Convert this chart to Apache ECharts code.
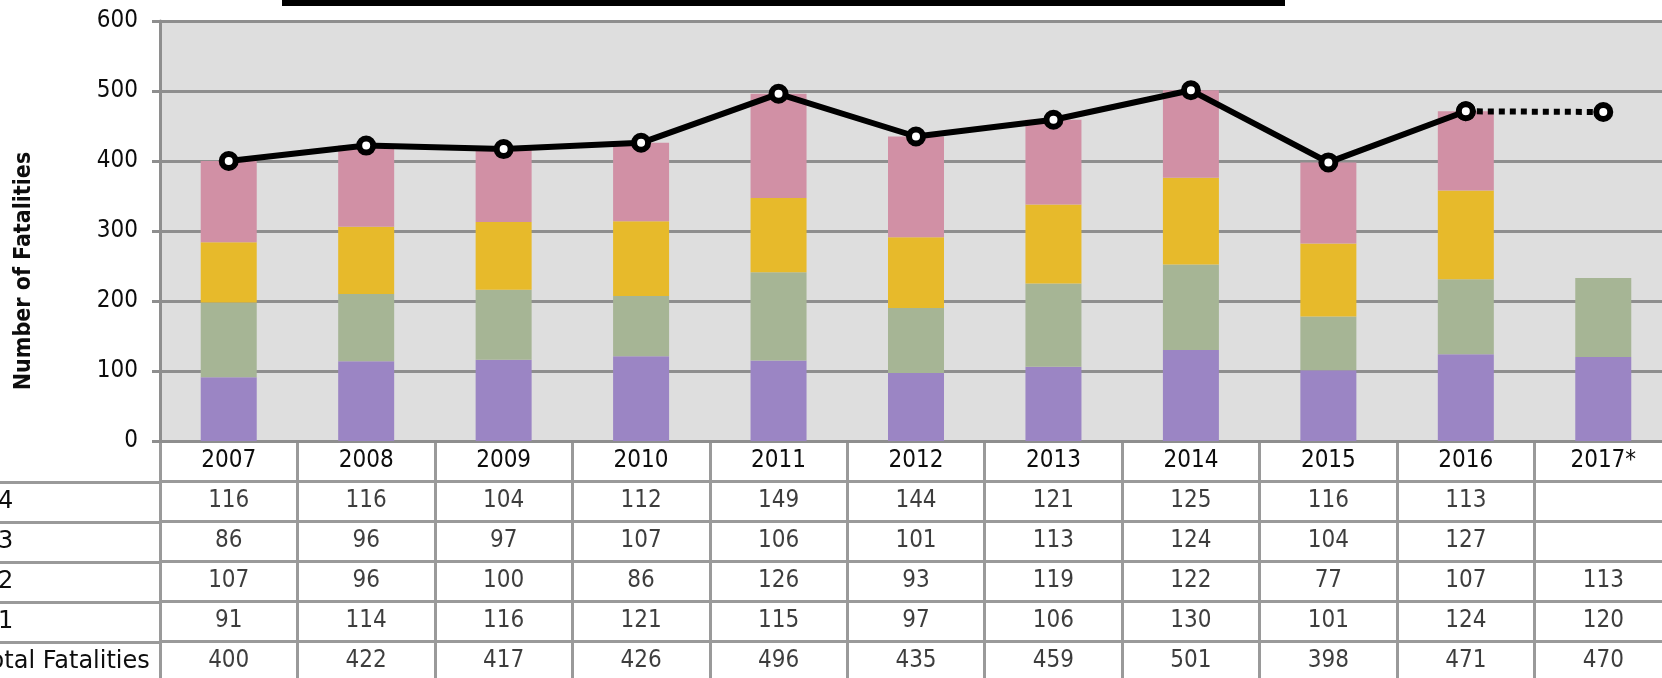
<!DOCTYPE html>
<html>
<head>
<meta charset="utf-8">
<style>
  html, body { margin: 0; padding: 0; background: #ffffff; }
  #chart { width: 1662px; height: 678px; }
</style>
<script src="https://cdn.jsdelivr.net/npm/echarts@6/dist/echarts.min.js"></script>
</head>
<body>
<div id="chart"></div>
<script>
// ---- Data ----
const years = ['2007', '2008', '2009', '2010', '2011', '2012', '2013', '2014', '2015', '2016', '2017*'];
const q4 = [116, 116, 104, 112, 149, 144, 121, 125, 116, 113, null];
const q3 = [86, 96, 97, 107, 106, 101, 113, 124, 104, 127, null];
const q2 = [107, 96, 100, 86, 126, 93, 119, 122, 77, 107, 113];
const q1 = [91, 114, 116, 121, 115, 97, 106, 130, 101, 124, 120];
const totals = [400, 422, 417, 426, 496, 435, 459, 501, 398, 471, 470];
const rowLabels = ['Q4', 'Q3', 'Q2', 'Q1', 'Total Fatalities'];
const yTicks = [0, 100, 200, 300, 400, 500, 600];
const yAxisTitle = 'Number of Fatalities';
const lastActual = 9; // index of 2016, last complete year

// ---- Build ----
const FONT = '"DejaVu Sans Condensed", "DejaVu Sans", sans-serif';
const FONT_WIDE = '"DejaVu Sans", sans-serif';
const GRIDLINE = '#8e8e8e';
const TABLELINE = '#9a9a9a';
const TXT = '#0d0d0d';
const FS = 24;

const tableRows = [null, q4, q3, q2, q1, totals]; // row 0 is header (years, drawn by axis)
const tableCats = [''].concat(rowLabels);
const cellData = [];
tableRows.forEach((row, r) => {
  if (!row) return;
  row.forEach((v, c) => {
    if (v !== null && v !== undefined) cellData.push([years[c], tableCats[r], String(v)]);
  });
});

const solidTotals = totals.map((v, i) => (i <= lastActual ? v : null));
const dottedTotals = totals.map((v, i) => (i >= lastActual ? v : null));

const chart = echarts.init(document.getElementById('chart'), null, { renderer: 'canvas' });

const markerStyle = { color: '#ffffff', borderColor: '#000', borderWidth: 6 };

const option = {
  backgroundColor: '#ffffff',
  animation: false,
  textStyle: { fontFamily: FONT },
  graphic: [{
    type: 'rect', left: 282, top: 0, shape: { width: 1003, height: 6 },
    style: { fill: '#000' }, z: 100
  }],
  grid: [
    { left: 160, top: 21, width: 1512, height: 420, show: true, backgroundColor: '#dedede', borderWidth: 0, containLabel: false, outerBoundsMode: 'none' },
    { left: 160, top: 441, width: 1512, height: 240, show: false, containLabel: false, outerBoundsMode: 'none' },
    { left: -30, top: 482, width: 190, height: 200, show: false, containLabel: false, outerBoundsMode: 'none' }
  ],
  xAxis: [
    {
      gridIndex: 0, type: 'category', data: years,
      axisLine: { show: true, lineStyle: { color: GRIDLINE, width: 3 } },
      axisTick: { show: false },
      axisLabel: { color: TXT, fontSize: FS, fontFamily: FONT, margin: 8, lineHeight: FS },
      splitLine: { show: false }
    },
    {
      gridIndex: 1, type: 'category', data: years,
      axisLine: { show: false }, axisTick: { show: false }, axisLabel: { show: false },
      splitLine: { show: true, lineStyle: { color: TABLELINE, width: 3 } }
    },
    { gridIndex: 2, type: 'value', show: false }
  ],
  yAxis: [
    {
      gridIndex: 0, type: 'value', min: yTicks[0], max: yTicks[yTicks.length - 1], interval: 100,
      name: yAxisTitle, nameLocation: 'middle', nameGap: 124, nameRotate: 90,
      nameTextStyle: { color: TXT, fontSize: 23, fontWeight: 'bold', fontFamily: FONT, padding: [0, 80, 0, 0] },
      axisLine: { show: true, lineStyle: { color: GRIDLINE, width: 3 } },
      axisTick: { show: true, length: 8, lineStyle: { color: GRIDLINE, width: 3 } },
      axisLabel: { color: TXT, fontSize: FS, fontFamily: FONT, margin: 22 },
      splitLine: { show: true, lineStyle: { color: GRIDLINE, width: 3 } }
    },
    {
      gridIndex: 1, type: 'category', data: tableCats, inverse: true,
      axisLine: { show: false }, axisTick: { show: false }, axisLabel: { show: false },
      splitLine: { show: true, lineStyle: { color: TABLELINE, width: 3 } }
    },
    {
      gridIndex: 2, type: 'category', data: rowLabels, inverse: true,
      axisLine: { show: false }, axisTick: { show: false },
      axisLabel: { show: true, inside: true, align: 'left', margin: 9, color: TXT, fontSize: FS, fontFamily: FONT_WIDE },
      splitLine: { show: true, lineStyle: { color: TABLELINE, width: 3 } }
    }
  ],
  series: [
    { name: 'Q1', type: 'bar', stack: 'q', data: q1, barWidth: 56, itemStyle: { color: '#9b85c4' } },
    { name: 'Q2', type: 'bar', stack: 'q', data: q2, barWidth: 56, itemStyle: { color: '#a6b595' } },
    { name: 'Q3', type: 'bar', stack: 'q', data: q3, barWidth: 56, itemStyle: { color: '#e7ba2b' } },
    { name: 'Q4', type: 'bar', stack: 'q', data: q4, barWidth: 56, itemStyle: { color: '#d190a5' } },
    {
      name: 'Total Fatalities (projected)', type: 'line', data: dottedTotals, z: 9,
      lineStyle: { color: '#000', width: 6, type: [6, 5] },
      symbol: 'circle', symbolSize: 14, showAllSymbol: true, itemStyle: markerStyle
    },
    {
      name: 'Total Fatalities', type: 'line', data: solidTotals, z: 10,
      lineStyle: { color: '#000', width: 6 },
      symbol: 'circle', symbolSize: 14, showAllSymbol: true, itemStyle: markerStyle
    },
    {
      name: 'table', type: 'scatter', xAxisIndex: 1, yAxisIndex: 1, data: cellData,
      symbolSize: 1, itemStyle: { color: 'rgba(0,0,0,0)' }, silent: true,
      label: {
        show: true, position: 'inside', color: TXT, fontSize: FS, fontFamily: FONT,
        formatter: p => p.value[2]
      }
    }
  ]
};

chart.setOption(option);
</script>
</body>
</html>
